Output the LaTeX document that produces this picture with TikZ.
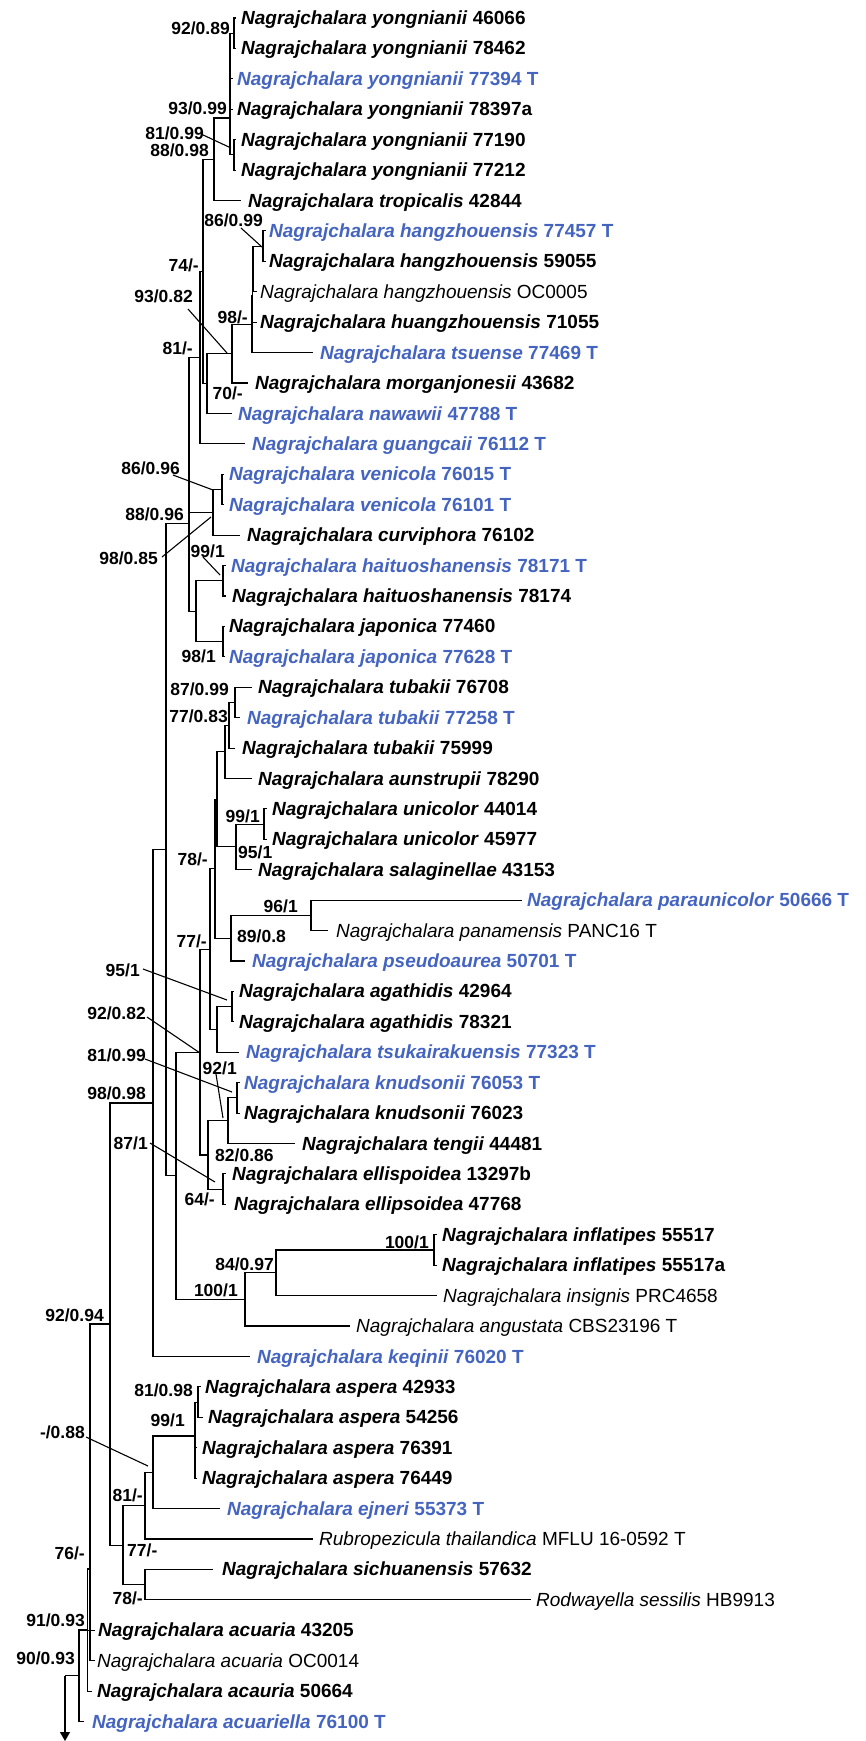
\documentclass[tikz,border=0pt]{standalone}
\usepackage{fontspec}
\setmainfont{Liberation Sans}
\usetikzlibrary{arrows.meta}
\definecolor{tblue}{RGB}{68,100,192}
\newcommand\Bn[2]{\textbf{\textit{Nagrajchalara #1} #2}}
\newcommand\Nn[2]{\textit{Nagrajchalara #1} #2}
\newcommand\tleaf[6]{\coordinate (t#1) at (#2,#4); \node[lab,#6] (l#1) at (#3,{#4+6.5}) {#5};}
\newcommand\tedges[2]{\foreach \cc in {#2} {\draw[br] (#1) |- (\cc);}}
\newcommand\supl[5]{\node[suplab,anchor=base #2] (#1) at (#3,{#4+6.3}) {#5};}
\newcommand\ptr[5]{\coordinate (pa#1) at (#2,#3); \coordinate (pb#1) at (#4,#5); \draw[br] (pa#1) -- (pb#1);}
\begin{document}
\begin{tikzpicture}[x=1pt,y=-1pt,
  br/.style={line width=1.1pt},
  lab/.style={anchor=base west,inner sep=0pt,font=\fontsize{19}{22}\selectfont},
  suplab/.style={inner sep=0pt,font=\bfseries\fontsize{17.5}{20}\selectfont}]
\useasboundingbox (0,0) rectangle (866,1741);
% leaves
\tleaf{1}{236}{241}{18.0}{\Bn{yongnianii}{46066}}{}
\tleaf{2}{236}{241}{48.4}{\Bn{yongnianii}{78462}}{}
\tleaf{3}{233}{237}{78.8}{\Bn{yongnianii}{77394 T}}{tblue}
\tleaf{4}{233}{237}{109.3}{\Bn{yongnianii}{78397a}}{}
\tleaf{5}{236}{241}{139.7}{\Bn{yongnianii}{77190}}{}
\tleaf{6}{236}{241}{170.1}{\Bn{yongnianii}{77212}}{}
\tleaf{7}{241}{248}{200.5}{\Bn{tropicalis}{42844}}{}
\tleaf{8}{266}{269}{230.9}{\Bn{hangzhouensis}{77457 T}}{tblue}
\tleaf{9}{266}{269}{261.4}{\Bn{hangzhouensis}{59055}}{}
\tleaf{10}{257}{260}{291.8}{\Nn{hangzhouensis}{OC0005}}{}
\tleaf{11}{257}{260}{322.2}{\Bn{huangzhouensis}{71055}}{}
\tleaf{12}{313}{320}{352.6}{\Bn{tsuense}{77469 T}}{tblue}
\tleaf{13}{248}{255}{383.0}{\Bn{morganjonesii}{43682}}{}
\tleaf{14}{232}{238}{413.5}{\Bn{nawawii}{47788 T}}{tblue}
\tleaf{15}{245}{252}{443.9}{\Bn{guangcaii}{76112 T}}{tblue}
\tleaf{16}{224}{229}{474.3}{\Bn{venicola}{76015 T}}{tblue}
\tleaf{17}{224}{229}{504.7}{\Bn{venicola}{76101 T}}{tblue}
\tleaf{18}{240}{247}{535.1}{\Bn{curviphora}{76102}}{}
\tleaf{19}{226}{231}{565.6}{\Bn{haituoshanensis}{78171 T}}{tblue}
\tleaf{20}{226}{232}{596.0}{\Bn{haituoshanensis}{78174}}{}
\tleaf{21}{225}{229}{626.4}{\Bn{japonica}{77460}}{}
\tleaf{22}{225}{229}{656.8}{\Bn{japonica}{77628 T}}{tblue}
\tleaf{23}{252}{258}{687.2}{\Bn{tubakii}{76708}}{}
\tleaf{24}{240}{247}{717.6}{\Bn{tubakii}{77258 T}}{tblue}
\tleaf{25}{235}{242}{748.1}{\Bn{tubakii}{75999}}{}
\tleaf{26}{252}{258}{778.5}{\Bn{aunstrupii}{78290}}{}
\tleaf{27}{267}{272}{808.9}{\Bn{unicolor}{44014}}{}
\tleaf{28}{267}{272}{839.3}{\Bn{unicolor}{45977}}{}
\tleaf{29}{252}{258}{869.7}{\Bn{salaginellae}{43153}}{}
\tleaf{30}{522}{527}{900.2}{\Bn{paraunicolor}{50666 T}}{tblue}
\tleaf{31}{328}{336}{930.6}{\Nn{panamensis}{PANC16 T}}{}
\tleaf{32}{245}{252}{961.0}{\Bn{pseudoaurea}{50701 T}}{tblue}
\tleaf{33}{234}{239}{991.4}{\Bn{agathidis}{42964}}{}
\tleaf{34}{234}{239}{1021.8}{\Bn{agathidis}{78321}}{}
\tleaf{35}{239}{246}{1052.3}{\Bn{tsukairakuensis}{77323 T}}{tblue}
\tleaf{36}{240}{244}{1082.7}{\Bn{knudsonii}{76053 T}}{tblue}
\tleaf{37}{240}{244}{1113.1}{\Bn{knudsonii}{76023}}{}
\tleaf{38}{295}{302}{1143.5}{\Bn{tengii}{44481}}{}
\tleaf{39}{226}{232}{1173.9}{\Bn{ellispoidea}{13297b}}{}
\tleaf{40}{226}{234}{1204.4}{\Bn{ellipsoidea}{47768}}{}
\tleaf{41}{437}{442}{1234.8}{\Bn{inflatipes}{55517}}{}
\tleaf{42}{437}{442}{1265.2}{\Bn{inflatipes}{55517a}}{}
\tleaf{43}{437}{443}{1295.6}{\Nn{insignis}{PRC4658}}{}
\tleaf{44}{350}{356}{1326.0}{\Nn{angustata}{CBS23196 T}}{}
\tleaf{45}{250}{257}{1356.5}{\Bn{keqinii}{76020 T}}{tblue}
\tleaf{46}{201}{205}{1386.9}{\Bn{aspera}{42933}}{}
\tleaf{47}{203}{208}{1417.3}{\Bn{aspera}{54256}}{}
\tleaf{48}{197}{202}{1447.7}{\Bn{aspera}{76391}}{}
\tleaf{49}{197}{202}{1478.1}{\Bn{aspera}{76449}}{}
\tleaf{50}{220}{227}{1508.6}{\Bn{ejneri}{55373 T}}{tblue}
\tleaf{51}{313}{319}{1539.0}{\textit{Rubropezicula thailandica} MFLU 16-0592 T}{}
\tleaf{52}{213}{222}{1569.4}{\Bn{sichuanensis}{57632}}{}
\tleaf{53}{531}{536}{1599.8}{\textit{Rodwayella sessilis} HB9913}{}
\tleaf{54}{95}{98}{1630.2}{\Bn{acuaria}{43205}}{}
\tleaf{55}{95}{97}{1660.6}{\Nn{acuaria}{OC0014}}{}
\tleaf{56}{92}{97}{1691.1}{\Bn{acauria}{50664}}{}
\tleaf{57}{84}{92}{1721.5}{\Bn{acuariella}{76100 T}}{tblue}
% internal nodes
\coordinate (n12) at (234,33.2);
\coordinate (n56) at (234,154.9);
\coordinate (nYo) at (230,118);
\coordinate (n88) at (214,159.3);
\coordinate (nA) at (263,246.2);
\coordinate (nB) at (253,269);
\coordinate (nC) at (252.5,295.6);
\coordinate (nD) at (252,324.1);
\coordinate (nE) at (232,353.6);
\coordinate (nF) at (207,383.5);
\coordinate (nH) at (203,271.4);
\coordinate (nG) at (200,357.6);
\coordinate (nVe) at (222,489.5);
\coordinate (nO) at (213,512.3);
\coordinate (nK) at (223,580.8);
\coordinate (nL) at (223,641.6);
\coordinate (nM) at (196,611.2);
\coordinate (nP) at (189,435);
\coordinate (nQ) at (189,523.1);
\coordinate (nTa) at (235,702.4);
\coordinate (nT) at (229,725.3);
\coordinate (nU) at (225,751.9);
\coordinate (nUn) at (264,824.1);
\coordinate (nW) at (236,846.9);
\coordinate (nV) at (217,799.4);
\coordinate (nPa) at (311,915.4);
\coordinate (nPs) at (231,938.2);
\coordinate (nX) at (215,868.8);
\coordinate (nAg) at (232,1006.6);
\coordinate (nZ) at (217,1029.5);
\coordinate (nXt) at (210,949.2);
\coordinate (nKn) at (237,1097.9);
\coordinate (nAA) at (228,1120.7);
\coordinate (nEl) at (223,1189.2);
\coordinate (nAB) at (208,1155);
\coordinate (nAC) at (200,1052.1);
\coordinate (nIn) at (434,1250);
\coordinate (nAD) at (276,1272.8);
\coordinate (nAE) at (245,1299.4);
\coordinate (nS) at (176,1175.8);
\coordinate (nR) at (166,849.5);
\coordinate (nRt) at (153,1103);
\coordinate (nAst) at (198,1402.1);
\coordinate (nAs) at (195,1436);
\coordinate (nEj) at (153,1472.3);
\coordinate (nRu) at (145,1505.6);
\coordinate (nSR) at (145,1584.6);
\coordinate (nSS) at (123,1545.1);
\coordinate (nNT) at (110,1324);
\coordinate (nSX) at (90,1569);
\coordinate (nNO) at (87.5,1630);
\coordinate (nNZ) at (79,1675.8);
\coordinate (rootc) at (65,1675.8);
\coordinate (rootend) at (65,1741);
% branches
\tedges{n12}{t1,t2}
\tedges{n56}{t5,t6}
\tedges{nYo}{n12,t3,t4,n56}
\tedges{n88}{nYo,t7}
\tedges{nA}{t8,t9}
\tedges{nB}{nA,t10}
\tedges{nC}{nB,t11}
\tedges{nD}{nC,t12}
\tedges{nE}{nD,t13}
\tedges{nF}{nE,t14}
\tedges{nH}{n88,nF}
\tedges{nG}{nH,t15}
\tedges{nVe}{t16,t17}
\tedges{nO}{nVe,t18}
\tedges{nK}{t19,t20}
\tedges{nL}{t21,t22}
\tedges{nM}{nK,nL}
\tedges{nP}{nG,nO}
\tedges{nQ}{nP,nM}
\tedges{nTa}{t23,t24}
\tedges{nT}{nTa,t25}
\tedges{nU}{nT,t26}
\tedges{nUn}{t27,t28}
\tedges{nW}{nUn,t29}
\tedges{nV}{nU,nW}
\tedges{nPa}{t30,t31}
\tedges{nPs}{nPa,t32}
\tedges{nX}{nV,nPs}
\tedges{nAg}{t33,t34}
\tedges{nZ}{nAg,t35}
\tedges{nXt}{nX,nZ}
\tedges{nKn}{t36,t37}
\tedges{nAA}{nKn,t38}
\tedges{nEl}{t39,t40}
\tedges{nAB}{nAA,nEl}
\tedges{nAC}{nXt,nAB}
\tedges{nIn}{t41,t42}
\tedges{nAD}{nIn,t43}
\tedges{nAE}{nAD,t44}
\tedges{nS}{nAC,nAE}
\tedges{nR}{nQ,nS}
\tedges{nRt}{nR,t45}
\tedges{nAst}{t46,t47}
\tedges{nAs}{nAst,t48,t49}
\tedges{nEj}{nAs,t50}
\tedges{nRu}{nEj,t51}
\tedges{nSR}{t52,t53}
\tedges{nSS}{nRu,nSR}
\tedges{nNT}{nRt,nSS}
\tedges{nSX}{nNT,t55}
\tedges{nNO}{nSX,t54,t56}
\tedges{nNZ}{nNO,t57}
\draw[br] (nNZ) -- (rootc);
\draw[br,-{Triangle[width=10pt,length=9pt]}] (rootc) -- (rootend);
% support values
\supl{s1}{east}{230}{28}{92/0.89}
\supl{s2}{east}{227}{108}{93/0.99}
\supl{s3}{east}{204}{133}{81/0.99}
\supl{s4}{east}{209}{150}{88/0.98}
\supl{s5}{east}{263}{220}{86/0.99}
\supl{s6}{east}{199}{265}{74/-}
\supl{s7}{east}{193}{296}{93/0.82}
\supl{s8}{east}{248}{317}{98/-}
\supl{s9}{east}{193}{348}{81/-}
\supl{s10}{east}{243}{393}{70/-}
\supl{s11}{east}{180}{468}{86/0.96}
\supl{s12}{east}{184}{514}{88/0.96}
\supl{s13}{east}{158}{558}{98/0.85}
\supl{s14}{east}{225}{551}{99/1}
\supl{s15}{east}{216}{656}{98/1}
\supl{s16}{east}{229}{689}{87/0.99}
\supl{s17}{east}{228}{716}{77/0.83}
\supl{s18}{east}{260}{816}{99/1}
\supl{s19}{west}{238}{852}{95/1}
\supl{s20}{east}{208}{859}{78/-}
\supl{s21}{east}{298}{906}{96/1}
\supl{s22}{west}{237}{936}{89/0.8}
\supl{s23}{east}{207}{941}{77/-}
\supl{s24}{east}{140}{970}{95/1}
\supl{s25}{east}{146}{1013}{92/0.82}
\supl{s26}{east}{146}{1055}{81/0.99}
\supl{s27}{east}{237}{1068}{92/1}
\supl{s28}{east}{146}{1093}{98/0.98}
\supl{s29}{east}{148}{1143}{87/1}
\supl{s30}{west}{215}{1155}{82/0.86}
\supl{s31}{east}{215}{1199}{64/-}
\supl{s32}{east}{429}{1242}{100/1}
\supl{s33}{east}{274}{1264}{84/0.97}
\supl{s34}{east}{238}{1290}{100/1}
\supl{s35}{east}{104}{1315}{92/0.94}
\supl{s36}{east}{193}{1390}{81/0.98}
\supl{s37}{east}{185}{1420}{99/1}
\supl{s38}{east}{85}{1432}{-/0.88}
\supl{s39}{east}{143}{1495}{81/-}
\supl{s40}{west}{127}{1550}{77/-}
\supl{s41}{east}{85}{1553}{76/-}
\supl{s42}{east}{143}{1598}{78/-}
\supl{s43}{east}{85}{1620}{91/0.93}
\supl{s44}{east}{75}{1658}{90/0.93}
% pointer lines
\ptr{1}{201}{134}{231}{148}
\ptr{2}{241}{228}{262}{247}
\ptr{3}{188}{309}{227}{353}
\ptr{4}{173}{475}{213}{490}
\ptr{5}{162}{557}{211}{517}
\ptr{6}{203}{557}{220}{575}
\ptr{7}{143}{969}{227}{1000}
\ptr{8}{147}{1017}{200}{1053}
\ptr{9}{145}{1059}{232}{1092}
\ptr{10}{216}{1074}{223}{1118}
\ptr{11}{150}{1143}{215}{1182}
\ptr{12}{86}{1437}{148}{1466}
\end{tikzpicture}
\end{document}
